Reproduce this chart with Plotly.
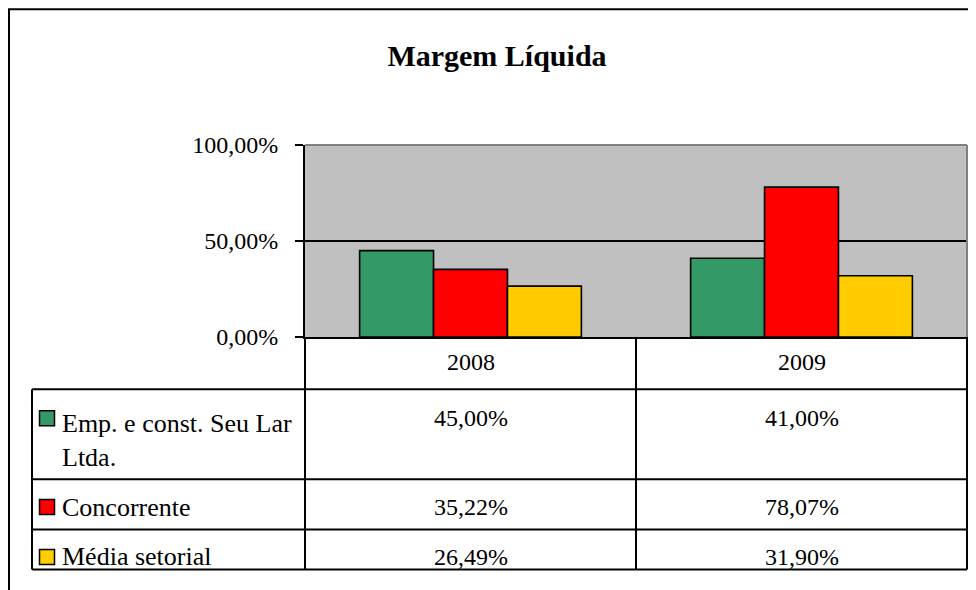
import plotly.graph_objects as go

categories = ["2008", "2009"]
series_names = ["Emp. e const. Seu Lar Ltda.", "Concorrente", "Média setorial"]
series_labels = ["Emp. e const. Seu Lar<br>Ltda.", "Concorrente", "Média setorial"]
values = [
    [0.4500, 0.4100],
    [0.3522, 0.7807],
    [0.2649, 0.3190],
]
value_text = [
    ["45,00%", "41,00%"],
    ["35,22%", "78,07%"],
    ["26,49%", "31,90%"],
]
colors = ["#339966", "#FF0000", "#FFCC00"]
y_tickvals = [0, 0.5, 1.0]
y_ticktext = ["0,00%", "50,00%", "100,00%"]

OFF = 8  # page body margin
W, H = 976 - OFF, 590 - OFF
L, R, T, B = 305 - OFF, 967 - OFF, 145 - OFF, 337.5 - OFF
FONT = "Liberation Serif"


def px_x(px):
    # px given in screenshot coordinates
    return (px - OFF - L) / (R - L)


def px_y(py):
    return (B - (py - OFF)) / (B - T)


fig = go.Figure()
for name, vals, col in zip(series_names, values, colors):
    fig.add_trace(go.Bar(
        x=categories, y=vals, name=name,
        marker=dict(color=col, line=dict(color="black", width=1.6)),
        hoverinfo="x+y+name",
    ))

shapes = []
# outer chart border
shapes.append(dict(type="rect", xref="paper", yref="paper",
                   x0=px_x(9), x1=px_x(1000), y0=px_y(9), y1=px_y(620),
                   line=dict(color="black", width=2), fillcolor="rgba(0,0,0,0)"))
# plot-area border (gray top/right)
shapes.append(dict(type="line", xref="paper", yref="paper", x0=0, x1=1, y0=1, y1=1,
                   line=dict(color="#808080", width=2)))
shapes.append(dict(type="line", xref="paper", yref="paper", x0=1, x1=1, y0=0, y1=1,
                   line=dict(color="#808080", width=2)))

# data table grid
row_lines = [390, 480, 530.5, 570.5]
tbl_left = 32
for yy in row_lines:
    shapes.append(dict(type="line", xref="paper", yref="paper",
                       x0=px_x(tbl_left), x1=1, y0=px_y(yy), y1=px_y(yy),
                       line=dict(color="black", width=2)))
col_lines = [(tbl_left, 390), (305, 337.5), ((305 + 967) / 2, 337.5), (967, 337.5)]
for xx, ytop in col_lines:
    shapes.append(dict(type="line", xref="paper", yref="paper",
                       x0=px_x(xx), x1=px_x(xx), y0=px_y(ytop), y1=px_y(570.5),
                       line=dict(color="black", width=2)))

annotations = []
row_centers = [419, 508, 558]
label_centers = [441, 508, 558]
for i, (lab, col) in enumerate(zip(series_labels, colors)):
    kc = row_centers[i]
    shapes.append(dict(type="rect", xref="paper", yref="paper",
                       x0=px_x(39.5), x1=px_x(54.5), y0=px_y(kc - 7.5), y1=px_y(kc + 7.5),
                       fillcolor=col, line=dict(color="black", width=1.5)))
    annotations.append(dict(xref="paper", yref="paper", x=px_x(60), y=px_y(label_centers[i]),
                            text=lab, showarrow=False, xanchor="left", yanchor="middle",
                            align="left", font=dict(family=FONT, size=26, color="black")))
    for j in range(len(categories)):
        annotations.append(dict(xref="x", yref="paper", x=j, y=px_y(kc),
                                text=value_text[i][j], showarrow=False,
                                xanchor="center", yanchor="middle",
                                font=dict(family=FONT, size=24, color="black")))
for j, cat in enumerate(categories):
    annotations.append(dict(xref="x", yref="paper", x=j, y=px_y(363),
                            text=cat, showarrow=False, xanchor="center", yanchor="middle",
                            font=dict(family=FONT, size=24, color="black")))

fig.update_layout(
    width=W, height=H,
    margin=dict(l=L, r=W - R, t=T, b=H - B, pad=0),
    paper_bgcolor="white", plot_bgcolor="#C0C0C0",
    barmode="group", bargap=0.33, bargroupgap=0,
    showlegend=False,
    title=dict(text="<b>Margem Líquida</b>", x=(497 - OFF) / W, xref="container", xanchor="center",
               y=1 - (55 - OFF) / H, yref="container", yanchor="middle",
               font=dict(family=FONT, size=30, color="black")),
    shapes=shapes, annotations=annotations,
    font=dict(family=FONT, size=24, color="black"),
)
fig.update_xaxes(type="category", range=[-0.5, len(categories) - 0.5], autorange=False,
                 showticklabels=False, showgrid=False, showline=True,
                 linecolor="black", linewidth=2, ticks="", zeroline=False, fixedrange=True)
fig.update_yaxes(range=[0, 1], tickvals=y_tickvals, ticktext=y_ticktext,
                 showgrid=True, gridcolor="black", gridwidth=2,
                 showline=True, linecolor="black", linewidth=2,
                 ticks="outside", ticklen=8, tickwidth=2, tickcolor="black",
                 ticklabelstandoff=12, zeroline=False, fixedrange=True,
                 tickfont=dict(family=FONT, size=24, color="black"))

fig.write_html("out.html")
